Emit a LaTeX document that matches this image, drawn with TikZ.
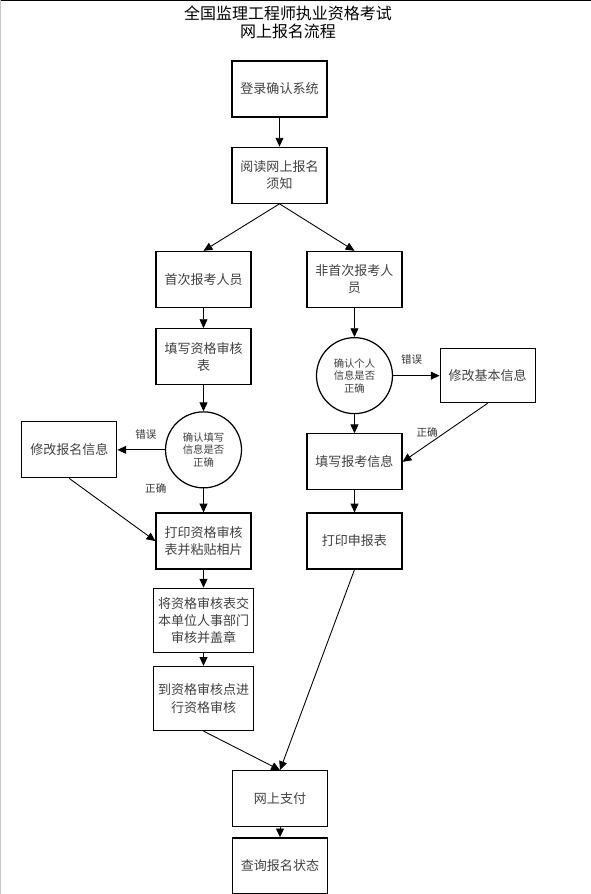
\documentclass[tikz,border=0pt]{standalone}
\usepackage{fontspec}
\setmainfont{Noto Sans CJK SC}
\usetikzlibrary{arrows.meta,positioning}
\tikzset{every picture/.style={line width=0.5pt}}
\tikzset{
    box/.style={draw, line width=0.7pt, minimum width=1.9cm, minimum height=1.12cm,
        align=center, inner sep=1pt, text=black!75, font=\fontsize{7.4}{9.8}\selectfont},
    bigbox/.style={box, minimum width=2cm, minimum height=1.28cm},
    ask/.style={draw, circle, line width=0.7pt, minimum size=1.52cm, inner sep=0pt,
        align=center, text=black!75, font=\fontsize{5.9}{7.1}\selectfont},
    tag/.style={inner sep=1pt, text=black!80, font=\fontsize{6}{7}\selectfont},
    go/.style={-{Triangle[length=5pt,width=4.5pt]}},
}

\begin{document}
\begin{tikzpicture}[x=0.02cm, y=0.02cm]
    \useasboundingbox (0,0) rectangle (591,-894);
    \draw[line width=1pt] (0,0) -- (591,0);
    \draw[gray!45, line width=1pt] (0,0) -- (0,-894);

    \node[align=center, font=\fontsize{9.1}{10.2}\selectfont] (title) at (288,-22)
        {全国监理工程师执业资格考试\\网上报名流程};
    \node[box] (login) at (279.5,-89) {登录确认系统};
    \node[box, below=0.58cm of login] (read) {阅读网上报名\\须知};
    \node[box, below=0.94cm of read, xshift=-1.52cm] (first) {首次报考人员};
    \node[box, below=0.94cm of read, xshift=1.5cm] (nonfirst) {非首次报考人\\员};
    \node[box, below=0.4cm of first] (fillform) {填写资格审核\\表};
    \node[ask, below=0.52cm of fillform] (checkL) {确认填写\\信息是否\\正确};
    \node[box, left=0.95cm of checkL] (fixreg) {修改报名信息};
    \node[box, below=0.48cm of checkL] (printform) {打印资格审核\\表并粘贴相片};
    \node[bigbox, below=0.36cm of printform] (submit) {将资格审核表交\\本单位人事部门\\审核并盖章};
    \node[bigbox, below=0.26cm of submit] (review) {到资格审核点进\\行资格审核};
    \node[box, below=0.78cm of review, xshift=1.53cm] (pay) {网上支付};
    \node[box, below=0.2cm of pay] (query) {查询报名状态};
    \node[ask, below=0.58cm of nonfirst] (checkR) {确认个人\\信息是否\\正确};
    \node[box, right=0.93cm of checkR, minimum height=1.08cm] (fixbasic) {修改基本信息};
    \node[box, below=0.38cm of checkR] (fillexam) {填写报考信息};
    \node[box, below=0.44cm of fillexam] (printapp) {打印申报表};

    \draw[go] (login) -- (read);
    \draw[go] (read.south) -- (first.north);
    \draw[go] (read.south) -- (nonfirst.north);
    \draw[go] (first) -- (fillform);
    \draw[go] (fillform) -- (checkL);
    \draw[go] (checkL) -- node[tag, pos=0.4, above=5pt] {错误} (fixreg);
    \draw[go] (checkL) -- node[tag, pos=0, left=0.7cm] {正确} (printform);
    \draw[go] (fixreg.south) -- (printform.west);
    \draw[go] (printform) -- (submit);
    \draw[go] (submit) -- (review);
    \draw[go] (review.south) -- (pay.north);
    \draw[go] (pay) -- (query);
    \draw[go] (nonfirst) -- (checkR);
    \draw[go] (checkR) -- node[tag, pos=0.4, above=5pt] {错误} (fixbasic);
    \draw[go] (fixbasic.south) -- node[tag, pos=0.5, left=3pt] {正确} (fillexam.east);
    \draw[go] (checkR) -- (fillexam);
    \draw[go] (fillexam) -- (printapp);
    \draw[go] (printapp.south) -- (pay.north);
\end{tikzpicture}
\end{document}
